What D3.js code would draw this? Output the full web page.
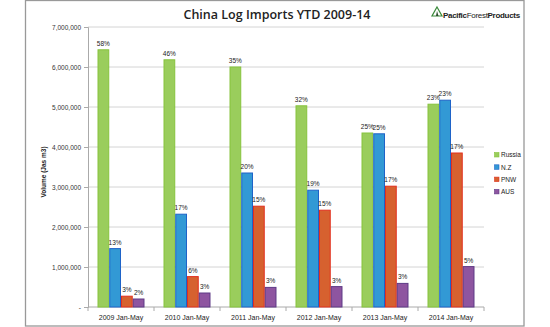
<!DOCTYPE html>
<html><head><meta charset="utf-8">
<script src="https://cdn.jsdelivr.net/npm/d3@7"></script>
<style>body{margin:0;background:#fff}svg{display:block}text{font-family:"Liberation Sans",Arial,sans-serif}</style>
</head><body><svg id="c" width="550" height="327"></svg>
<script>
const categories = ["2009 Jan-May","2010 Jan-May","2011 Jan-May","2012 Jan-May","2013 Jan-May","2014 Jan-May"];
const seriesNames = ["Russia","N.Z","PNW","AUS"];
const russia = [6430000,6180000,6000000,5030000,4350000,5070000];
const nz     = [1460000,2320000,3350000,2920000,4330000,5170000];
const pnw    = [270000,760000,2520000,2420000,3020000,3850000];
const aus    = [200000,350000,490000,510000,590000,1010000];
const russiaPct = ["58%","46%","35%","32%","25%","23%"];
const nzPct     = ["13%","17%","20%","19%","25%","23%"];
const pnwPct    = ["3%","6%","15%","15%","17%","17%"];
const ausPct    = ["2%","3%","3%","3%","3%","5%"];
const yTicks = [0,1000000,2000000,3000000,4000000,5000000,6000000,7000000];

const values = [russia,nz,pnw,aus];
const pcts = [russiaPct,nzPct,pnwPct,ausPct];
const fills = ["#9ACD5C","#3299D5","#D6612F","#8E55A0"];
const strokes = ["#86C33C","#1E63C8","#E2301F","#5E3A86"];

const svg = d3.select("#c");
// frame
svg.append("rect").attr("x",25.5).attr("y",0.5).attr("width",498.5).attr("height",325.5)
  .attr("fill","none").attr("stroke","#999").attr("stroke-width",1.3);

const L=88,R=484,T=27,B=307;
const y = d3.scaleLinear().domain([0,7000000]).range([B,T]);
const x0 = d3.scaleBand().domain(categories).range([L,R]).padding(0);
const x1 = d3.scaleBand().domain(seriesNames).range([0,x0.bandwidth()]).paddingInner(0).paddingOuter(0.809);

// gridlines
svg.append("g").selectAll("line").data(yTicks.filter(d=>d>0)).join("line")
  .attr("x1",L).attr("x2",R).attr("y1",d=>y(d)).attr("y2",d=>y(d))
  .attr("stroke","#d4d4d4").attr("stroke-width",1);

// y axis
const yAxis = d3.axisLeft(y).tickValues(yTicks).tickSize(4).tickPadding(3)
  .tickFormat(d=>d===0?"-":d3.format(",")(d));
const gy = svg.append("g").attr("transform",`translate(${L},0)`).call(yAxis);
gy.select(".domain").attr("stroke","#aaa");
gy.selectAll(".tick line").attr("stroke","#aaa");
gy.selectAll(".tick text").attr("fill","#333").style("font-size","6.5px");

// x axis
const gx = svg.append("g").attr("transform",`translate(0,${B})`);
gx.append("line").attr("x1",L).attr("x2",R).attr("stroke","#aaa");
gx.selectAll("line.tk").data(categories.map(c=>x0(c)).concat([R])).join("line").attr("class","tk")
  .attr("x1",d=>d).attr("x2",d=>d).attr("y1",0).attr("y2",4).attr("stroke","#aaa");
gx.selectAll("text").data(categories).join("text")
  .attr("x",d=>x0(d)+x0.bandwidth()/2).attr("y",13).attr("text-anchor","middle")
  .attr("fill","#222").style("font-size","7px").text(d=>d);

// bars
seriesNames.forEach((s,si)=>{
  const g = svg.append("g");
  g.selectAll("rect").data(categories).join("rect")
    .attr("x",(c)=>x0(c)+x1(s)+0.5).attr("width",x1.bandwidth()-1)
    .attr("y",(c,i)=>y(values[si][i])).attr("height",(c,i)=>B-y(values[si][i]))
    .attr("fill",fills[si]).attr("stroke",strokes[si]).attr("stroke-width",1);
  g.selectAll("text").data(categories).join("text")
    .attr("x",c=>x0(c)+x1(s)+x1.bandwidth()/2).attr("y",(c,i)=>y(values[si][i])-4)
    .attr("text-anchor","middle").attr("fill","#222").style("font-size","6.5px")
    .text((c,i)=>pcts[si][i]);
});

// y title
svg.append("text").attr("transform","translate(46,172) rotate(-90)").attr("text-anchor","middle")
  .style("font-size","6.5px").style("font-weight","bold").attr("fill","#222").text("Volume (Jas m3)");

// title
svg.append("text").attr("x",277).attr("y",19).attr("text-anchor","middle")
  .style("font-size","12.5px").style("font-weight","600").attr("fill","#222")
  .style("font-family","'Open Sans',sans-serif").text("China Log Imports YTD 2009-14");

// legend
const lg = svg.append("g");
seriesNames.forEach((s,i)=>{
  const yy = 155 + i*12.3;
  lg.append("rect").attr("x",494.5).attr("y",yy-2.5).attr("width",4.5).attr("height",4.5)
    .attr("fill",fills[i]).attr("stroke",strokes[i]).attr("stroke-width",0.6);
  lg.append("text").attr("x",501).attr("y",yy+2.3).style("font-size","6.5px").attr("fill","#222").text(s);
});

// logo
const logo = svg.append("g");
logo.append("path").attr("d","M437,7 L442,16 L432,16 Z").attr("fill","none").attr("stroke","#3a8a3a").attr("stroke-width",1.2);
logo.append("path").attr("d","M436,16 L437,11 L438.5,16 Z").attr("fill","#2a4a2a");
const lt = logo.append("text").attr("x",443).attr("y",18).style("font-size","8px").attr("fill","#222")
  .style("letter-spacing","-0.3px");
lt.append("tspan").style("font-weight","bold").text("Pacific");
lt.append("tspan").text("Forest");
lt.append("tspan").style("font-weight","bold").text("Products");
</script></body></html>
